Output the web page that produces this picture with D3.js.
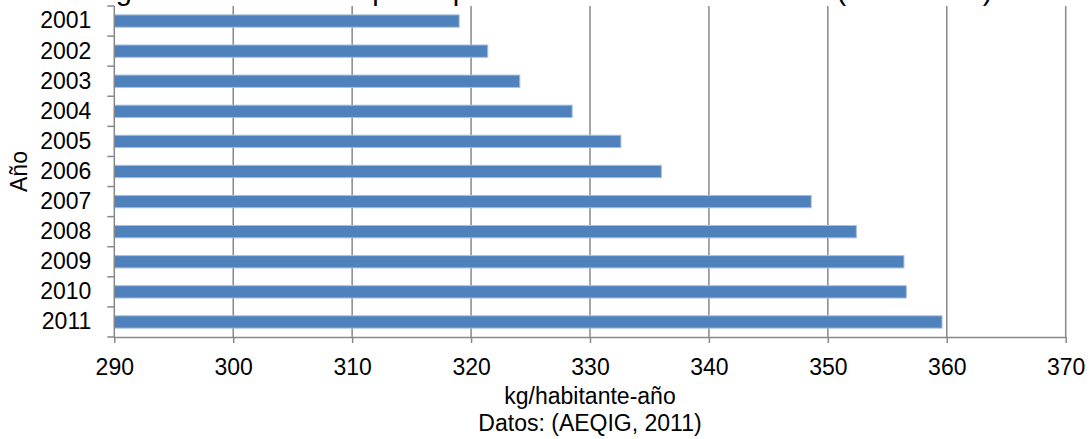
<!DOCTYPE html>
<html>
<head>
<meta charset="utf-8">
<script src="https://cdn.jsdelivr.net/npm/d3@7"></script>
<style>
  html, body { margin: 0; padding: 0; background: #fff; }
  svg { display: block; font-family: "Liberation Sans", Arial, sans-serif; }
</style>
</head>
<body>
<svg id="chart" width="1092" height="439"></svg>
<script>
// Generación per cápita anual de RSU (kg/habitante-año)
const years = ["2001","2002","2003","2004","2005","2006","2007","2008","2009","2010","2011"];
const values = [319.0, 321.4, 324.1, 328.5, 332.6, 336.0, 348.6, 352.4, 356.4, 356.6, 359.6];
const xTicks = [290, 300, 310, 320, 330, 340, 350, 360, 370];

const titleText = "Figura 4. Generación per cápita anual de RSU en México (2001-2011)";
const xTitle = "kg/habitante-año";
const sourceText = "Datos: (AEQIG, 2011)";
const yTitle = "Año";

const W = 1092, H = 439;
const margin = { top: 6, right: 26.3, bottom: 102, left: 114.3 };
const innerW = W - margin.left - margin.right;
const innerH = H - margin.top - margin.bottom;

const gridColor = "#888888";
const barColor = "#4F81BD";

const svg = d3.select("#chart");

const x = d3.scaleLinear().domain([290, 370]).range([0, innerW]);
const y = d3.scaleBand().domain(years).range([0, innerH]).padding(0);

const g = svg.append("g").attr("transform", `translate(${margin.left},${margin.top})`);

// vertical gridlines
g.selectAll("line.grid")
  .data(xTicks.slice(1))
  .join("line")
  .attr("class", "grid")
  .attr("x1", d => x(d)).attr("x2", d => x(d))
  .attr("y1", 0).attr("y2", innerH)
  .attr("stroke", gridColor).attr("stroke-width", 1.5);

// bars
const barFrac = 0.41;
g.selectAll("rect.bar")
  .data(years.map((yr, i) => ({ yr, v: values[i] })))
  .join("rect")
  .attr("class", "bar")
  .attr("x", x(290))
  .attr("y", d => y(d.yr) + y.bandwidth() * (1 - barFrac) / 2)
  .attr("width", d => x(d.v) - x(290))
  .attr("height", y.bandwidth() * barFrac)
  .attr("fill", barColor)
  .attr("stroke", "#A9C0DE")
  .attr("stroke-width", 1);

// x axis
const xAxis = g.append("g")
  .attr("transform", `translate(0,${innerH})`)
  .call(d3.axisBottom(x).tickValues(xTicks).tickSize(6).tickSizeOuter(0).tickFormat(d3.format("d")));
xAxis.select(".domain").attr("stroke", gridColor).attr("stroke-width", 1.5);
xAxis.selectAll(".tick line").attr("stroke", gridColor).attr("stroke-width", 1.5);
xAxis.selectAll(".tick text")
  .attr("y", 38).attr("dy", 0)
  .attr("font-size", 23).attr("fill", "#000")
  .attr("font-family", "Liberation Sans, Arial, sans-serif");

// y axis: labels centred on bands, tick marks on band boundaries
const yAxis = g.append("g")
  .call(d3.axisLeft(y).tickSize(0).tickPadding(23));
yAxis.select(".domain").remove();
yAxis.selectAll(".tick text")
  .attr("font-size", 23).attr("fill", "#000")
  .attr("font-family", "Liberation Sans, Arial, sans-serif");

const bounds = years.map(yr => y(yr)).concat([innerH]);
g.selectAll("line.ytick")
  .data(bounds)
  .join("line")
  .attr("class", "ytick")
  .attr("x1", -7).attr("x2", 0)
  .attr("y1", d => d).attr("y2", d => d)
  .attr("stroke", gridColor).attr("stroke-width", 1.5);
g.append("line")
  .attr("x1", 0).attr("x2", 0).attr("y1", 0).attr("y2", innerH)
  .attr("stroke", gridColor).attr("stroke-width", 1.5);

// titles
svg.append("text")
  .attr("x", 542).attr("y", -0.5)
  .attr("text-anchor", "middle")
  .attr("font-size", 29).attr("fill", "#000")
  .text(titleText);

svg.append("text")
  .attr("x", margin.left + innerW / 2).attr("y", 404)
  .attr("text-anchor", "middle")
  .attr("font-size", 23).attr("fill", "#000")
  .text(xTitle);

svg.append("text")
  .attr("x", margin.left + innerW / 2).attr("y", 431)
  .attr("text-anchor", "middle")
  .attr("font-size", 23).attr("fill", "#000")
  .text(sourceText);

svg.append("text")
  .attr("transform", `translate(27,${margin.top + innerH / 2}) rotate(-90)`)
  .attr("text-anchor", "middle")
  .attr("font-size", 23).attr("fill", "#000")
  .text(yTitle);
</script>
</body>
</html>
